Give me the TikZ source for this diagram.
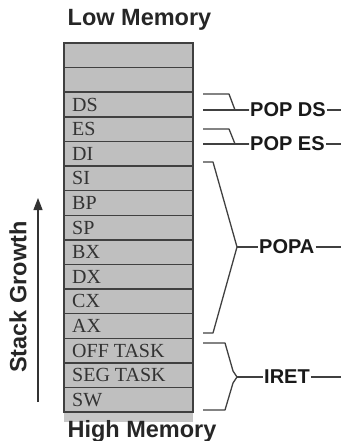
\documentclass[tikz,border=0pt]{standalone}
\usepackage{fontspec}
\setmainfont{Liberation Serif}
\setsansfont{Liberation Sans}
\usetikzlibrary{arrows.meta}

\begin{document}
\begin{tikzpicture}[
  x=1pt, y=-1pt,
  >={Triangle[length=12pt,width=9pt]},
  cell/.style={draw=black!75, line width=1.4pt, fill=black!25, minimum width=129pt, minimum height=24.6pt, inner sep=0pt, outer sep=0pt},
  cellText/.style={font=\fontsize{20}{20}\selectfont, text=black!80, inner sep=0pt},
  memLbl/.style={font=\sffamily\bfseries\fontsize{23.5}{23.5}\selectfont, text=black!85},
  popLbl/.style={font=\sffamily\bfseries\fontsize{20}{20}\selectfont, text=black!90, inner sep=1pt},
  brk/.style={draw=black!75, line width=1.3pt, line join=round}
]
\useasboundingbox (0,0) rectangle (341,441);

% Memory ends
\node[memLbl] (low) at (139.5,20) {Low Memory};
\fill[black!22] (64,412) rectangle (193,422);
\node[memLbl] (high) at (142,431) {High Memory};

% Stack cells, low address at the top
\foreach \lbl [count=\i from 0] in {{},{},DS,ES,DI,SI,BP,SP,BX,DX,CX,AX,OFF TASK,SEG TASK,SW} {
  \node[cell] (row\i) at (128.5,{43+24.6*(\i+0.5)}) {};
  \node[cellText, anchor=west] (lbl\i) at ([xshift=8pt]row\i.west) {\lbl};
}

% Growth direction
\coordinate (growBot) at (38,402);
\coordinate (growTop) at (38,198);
\draw[->, line width=1.2pt, black!80] (growBot) -- (growTop);
\node[memLbl, rotate=90] (growth) at (18,297) {Stack Growth};

% POP DS
\node[popLbl, anchor=west] (popds) at (249,110) {POP DS};
\coordinate (dsEnd) at (341,110);
\draw[brk] (203,94) -- (229,94) -- (235,110) -- (popds.west);
\draw[brk] (203,110) -- (popds.west);
\draw[brk] (popds.east) -- (dsEnd);

% POP ES
\node[popLbl, anchor=west] (popes) at (249,144) {POP ES};
\coordinate (esEnd) at (341,144);
\draw[brk] (203,129) -- (229,129) -- (235,144) -- (popes.west);
\draw[brk] (203,144) -- (popes.west);
\draw[brk] (popes.east) -- (esEnd);

% POPA
\node[popLbl, anchor=west] (popa) at (258,247) {POPA};
\coordinate (popaTip) at (237,247);
\coordinate (popaEnd) at (341,247);
\draw[brk] (203,162) -- (213,162) -- (popaTip) -- (213,333) -- (203,333);
\draw[brk] (popaTip) -- (popa.west);
\draw[brk] (popa.east) -- (popaEnd);

% IRET
\node[popLbl, anchor=west] (iret) at (263,377) {IRET};
\coordinate (iretTip) at (237,377);
\coordinate (iretEnd) at (341,377);
\draw[brk] (203,343) -- (225,343) -- (233,371) -- (iretTip) -- (233,383) -- (225,410) -- (203,410);
\draw[brk] (iretTip) -- (iret.west);
\draw[brk] (iret.east) -- (iretEnd);

\end{tikzpicture}
\end{document}
